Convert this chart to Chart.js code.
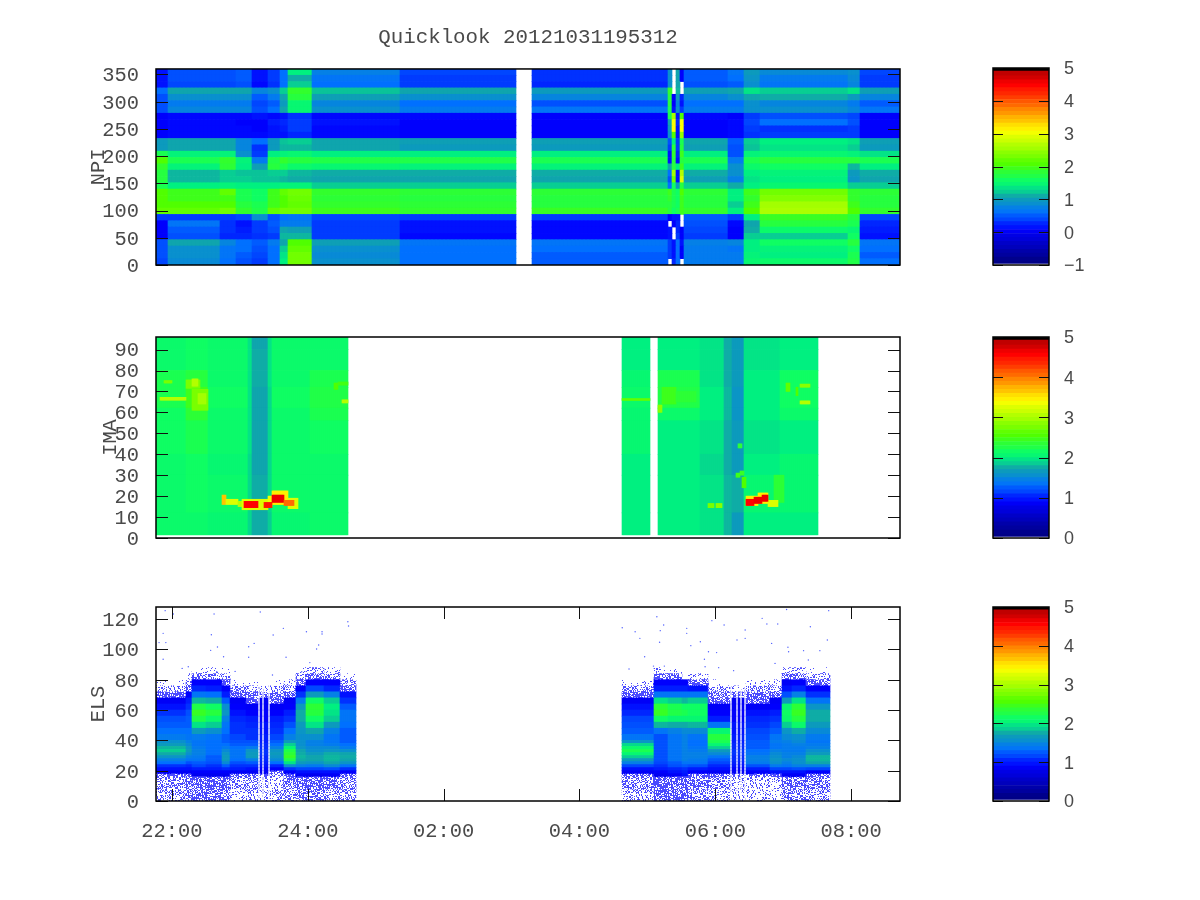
<!DOCTYPE html>
<html>
<head>
<meta charset="utf-8">
<title>Quicklook</title>
<script src="https://cdn.jsdelivr.net/npm/chart.js@4"></script>
<style>
body { margin: 0; background: #fff; }
canvas { position: absolute; left: 0; top: 0; }
</style>
</head>
<body>
<canvas id="npi" width="1200" height="900"></canvas>
<canvas id="ima" width="1200" height="900"></canvas>
<canvas id="els" width="1200" height="900"></canvas>
<canvas id="npiBar" width="1200" height="900"></canvas>
<canvas id="imaBar" width="1200" height="900"></canvas>
<canvas id="elsBar" width="1200" height="900"></canvas>
<script>
// textes et graduations
const titleText = 'Quicklook 20121031195312';
const npiTicks = [0, 50, 100, 150, 200, 250, 300, 350];
const imaTicks = [0, 10, 20, 30, 40, 50, 60, 70, 80, 90];
const elsTicks = [0, 20, 40, 60, 80, 100, 120];
const timeTicks = [22, 24, 26, 28, 30, 32];
const timeLabels = ['22:00', '24:00', '02:00', '04:00', '06:00', '08:00'];
const npiBarTicks = [-1, 0, 1, 2, 3, 4, 5];
const barTicks = [0, 1, 2, 3, 4, 5];
const rampLevels = [.008,.02,.04,.06,.08,.1,.12,.14,.16,.18,.2,.22,.24,.26,.28,.3,.32,.34,.36,.38,.4,.42,.44,.46,.48,.5,.52,.54,.56,.58,.6,.62,.64,.66,.68,.7,.72,.74,.76,.78,.8,.82,.84,.86,.88,.9,.92,.94,.96,.985];

// NPI : largeur des segments en colonnes, puis une ligne par canal (du haut vers le bas)
const _ = null;
const npiRuns = [3,13,4,4,4,3,2,6,22,29,4,34,1,1,1,1,11,4,4,22,3,10];
const npiEdges = [0,11.6,23.2,34.8,46.5,58.1,69.7,81.3,92.9,104.5,116.1,127.7,139.4,151,162.6,174.2,185.8,197.4,209,220.6,232.3,243.9,255.5,267.1,278.7,290.3,301.9,313.5,325.2,336.8,348.4,360];
const npiRows = [
  [.1,.4,.4,.45,.1,.3,.5,1.3,.65,.35,_,.25,.8,_,1,0,.45,.55,.9,.75,.8,.35],
  [.1,.4,.4,.45,.1,.3,.5,1.05,.55,.3,_,.25,.8,_,1,0,.45,.5,.85,.6,.75,.3],
  [.1,.35,.35,.4,.05,.25,.5,1.2,.5,.3,_,.2,.8,_,1,_,.4,.45,.8,.55,.7,.3],
  [.5,1,1,1,.7,.8,1.2,1.8,1.15,1,_,.9,1.8,_,1.1,_,.95,1,1.25,1.2,1.25,.95],
  [.4,.8,.8,.8,.45,.6,1,1.7,.95,.8,_,.7,1.7,0,.9,.2,.7,.8,1,1.05,.9,.7],
  [.4,.6,.6,.6,.35,.45,.9,1.4,.7,.5,_,.4,1.7,0,.7,.1,.5,.5,.8,.7,.6,.45],
  [.4,.7,.7,.7,.4,.5,1,1.4,.8,.6,_,.55,1.6,.1,.8,.3,.6,.6,.8,.8,.7,.55],
  [0,.05,.05,.05,.1,.05,.1,.25,.05,.05,_,0,1.6,2.5,.1,2,.05,0,.3,.4,.35,0],
  [0,.05,.05,0,0,.15,.2,.3,.1,0,_,0,1,3,.2,3,0,.05,.35,.5,.4,0],
  [0,.05,.05,.05,0,.1,.15,.3,.05,0,_,0,.9,3,.1,3,0,.05,.3,.25,.3,0],
  [0,.05,.05,.05,.05,.1,.1,.2,.05,0,_,0,.8,2,.1,2.4,0,.05,.25,.3,.3,0],
  [.9,1,1,.7,.5,.9,1.15,1.2,1,.95,_,.95,.4,1.3,.3,1.6,1,.45,1.2,1.3,1.25,.95],
  [.9,1,1,.7,.25,.9,1.1,1.1,1,.9,_,.9,.3,1.7,.3,1.7,.95,.4,1.15,1.25,1.2,.9],
  [1.6,1.35,1.35,.8,.3,1.3,1.35,1.4,1.3,1.3,_,1.3,.1,1.8,.2,1.9,1.3,.4,1.35,1.4,1.35,1.25],
  [2,1.6,1.8,1.35,.6,1.65,1.8,1.7,1.65,1.65,_,1.6,.1,1.7,.1,1.7,1.6,.6,1.6,1.7,1.7,1.6],
  [1.8,1.35,1.75,1.3,.95,1.7,1.6,1.45,1.4,1.35,_,1.35,1,1.7,1.3,1.9,1.35,.8,1.45,1.5,1.1,1.3],
  [1.7,1.1,1.2,1.15,1.15,1.2,1.2,1.1,1.05,1.05,_,1.05,.5,2.5,.1,2.6,1.05,.8,1.3,1.35,.9,1.05],
  [1.7,1.1,1.2,1.2,1.15,1.15,1.1,1.05,1,1,_,1,.4,2.2,.1,2.8,.95,.65,1.25,1.3,.85,1],
  [1.6,1.3,1.35,1.3,1.3,1.3,1.35,1.35,1.2,1.2,_,1.2,.5,1.5,.9,1.7,1.2,1.05,1.3,1.4,1.2,1.2],
  [2,1.9,2.1,1.6,1.5,1.9,2.1,2.2,1.8,1.75,_,1.75,1.9,1.6,1.5,2,1.75,1.3,1.9,2.2,1.8,1.75],
  [2,1.9,1.95,1.6,1.5,1.9,2,2.15,1.75,1.7,_,1.7,1.8,1.6,1.5,1.9,1.7,1.3,1.8,2.3,1.8,1.7],
  [2,2,2,1.7,1.6,1.9,2,2.1,1.8,1.75,_,1.7,1.7,1.6,1.5,1.9,1.7,1.2,1.9,2.5,1.9,1.7],
  [2.1,2.1,2.2,1.8,1.65,2.1,2.2,2.2,1.9,1.8,_,1.85,1.7,1.5,1.6,1.9,1.8,1.3,2,2.55,2,1.8],
  [.3,.3,.3,.35,.8,.4,.5,.55,.35,.3,_,.3,0,.1,.1,_,.45,.3,1.3,1.85,1.7,.35],
  [0,.55,.25,.1,.3,.45,.6,.6,.3,.1,_,.05,_,0,.2,_,.4,.05,1,1.7,1.6,.2],
  [0,.45,.25,.15,.3,.4,1,.95,.3,.1,_,.05,.1,_,.2,0,.35,0,1.05,1.45,1.4,.15],
  [0,.4,.2,.2,.25,.3,1.1,1.1,.3,.05,_,.05,.1,_,.3,0,.3,0,1.2,1.2,1.5,.1],
  [.4,1,.7,.5,.45,.6,1,2,.95,.55,_,.55,.3,.1,.5,.1,.65,.7,1.3,1.5,1.7,.55],
  [.4,.8,.55,.5,.4,.5,1.2,2.1,.8,.5,_,.5,.3,.1,.5,0,.6,.55,1.3,1.35,1.5,.5],
  [.4,.8,.55,.45,.35,.5,1.25,2.2,.75,.5,_,.45,.3,.1,.5,0,.6,.6,1.35,1.3,1.6,.45],
  [.35,.75,.5,.4,.3,.5,1.3,2.2,.8,.5,_,.45,_,.2,.5,_,.6,.6,1.4,1.45,1.65,.5]
];

// IMA : profils par segment de temps (du bas vers le haut)
const imaEdges = [1.5,12,30,40,56,62,72,80,90,96];
const imaRuns = [15,11,20,2,8,2,19,19,137,14,4,21,12,4,6,18,19,41];
const imaProfiles = [
  [2.05,2.05,2.05,2.1,2.1,2.15,2.15,2.05,2.05],
  [2.05,2.1,2.1,2.15,2.3,2.4,2.25,2.1,2.1],
  [2,2.05,2,2.05,2.05,2.1,2.05,2.05,2.05],
  [1.85,1.85,1.85,1.9,1.9,1.9,1.9,1.9,1.9],
  [1.7,1.7,1.65,1.65,1.65,1.65,1.7,1.7,1.65],
  [1.8,1.85,1.85,1.85,1.85,1.85,1.9,1.9,1.9],
  [2,2.05,2.05,2.05,2.05,2.1,2.05,2.05,2.05],
  [2.05,2.05,2.05,2.1,2.15,2.2,2.15,2.05,2.05],
  _,
  [1.95,1.95,1.95,2,2,2.05,2,1.95,1.95],
  _,
  [1.95,1.95,1.95,1.95,2.05,2.2,2.15,1.95,1.95],
  [1.9,1.9,1.85,1.9,1.95,1.95,1.9,1.9,1.9],
  [1.75,1.75,1.7,1.7,1.75,1.75,1.7,1.7,1.7],
  [1.6,1.7,1.6,1.6,1.55,1.55,1.6,1.6,1.6],
  [1.95,2,1.95,1.9,1.95,1.95,1.95,1.9,1.9],
  [1.95,2,2,1.95,2.05,2.1,2.1,1.95,1.95],
  _
];
// IMA : taches chaudes (colonne, nb de colonnes, bas, haut, valeur)
const imaHotCol = [18,21,2,4,15,18,89,93,91,233,251,253,260,315,322,320,322,309,293,290,292,291,276,280,33,35,41,43,56,58,66,44,54,58,64,295,301,306,295,299,303];
const imaHotSpan = [8,4,13,4,7,3,2,3,5,14,2,7,10,2,5,1,5,5,2,2,2,2,3,3,2,6,2,13,2,8,5,7,4,6,5,6,5,5,4,4,3];
const imaHotLo = [61,64,65.8,74,71.5,72.5,71,64.5,73,65.7,60,64,65,70,72,68,64,17,24,29,30,43,14.5,14.5,16,16,15,13.5,15,16,14,14.5,14.5,17,15.5,15.5,16.5,15,15.5,16.5,17.5];
const imaHotHi = [71,69,67.2,75.2,75.5,76,74,66,74.5,66.6,63.5,72,70,74,73.5,72,65.5,30,29,31,32,45,16.5,16.5,20.5,18.5,17.5,18.5,20,22.5,19,17.5,17,20.5,18,20,21.5,18,18.5,19.5,20.5];
const imaHotVal = [2.7,2.9,3,2.7,2.7,3,2.5,3,2.45,2.6,2.8,2.4,2.3,2.6,2.8,2.5,3,2.3,2.5,2.4,2.35,2.3,2.7,2.8,3.6,3.2,3,3.2,3.3,3.4,3.2,4.5,4.4,4.6,4,3.4,3.4,3.2,4.5,4.6,4.6];

// ELS : profils par segment (du bas vers le haut), negatif = points epars, 0 = vide
const elsEdges = [0,8,16,18,20,22,24,26,28,30,32,34,36,38,40,44,48,52,56,60,64,68,72,76,80,84,88];
const L1 = [-.4,-.5,-.8,.8,.9,1.05,1.25,1.4,1.55,1.7,1.8,1.75,1.6,1.5,1.35,1.25,1.2,1.15,1.05,.9,.8,-.85,-.35,-.05,0,0];
const L2 = [-.6,-.7,-.9,.8,.9,1,1.15,1.3,1.4,1.5,1.6,1.55,1.45,1.4,1.3,1.25,1.2,1.2,1.15,1.05,.95,.85,-.8,-.45,-.1,0];
const L3 = [-.75,-.85,.75,.85,.95,1.1,1.2,1.3,1.35,1.4,1.4,1.35,1.3,1.3,1.35,1.6,1.9,2.2,2.35,2.2,1.75,1.3,1,.85,-.6,-.15];
const L4 = [-.7,-.85,.75,.85,.95,1.05,1.15,1.2,1.2,1.25,1.25,1.25,1.25,1.25,1.3,1.5,1.8,2.05,2.25,2.1,1.7,1.25,.95,.85,-.55,-.1];
const L5 = [-.6,-.8,.75,.85,1,1.2,1.45,1.6,1.6,1.55,1.45,1.35,1.25,1.2,1.2,1.25,1.3,1.4,1.55,1.5,1.2,.95,.85,-.85,-.4,-.05];
const L6 = [-.2,-.4,-.85,.8,.95,1.05,1.15,1.25,1.3,1.3,1.3,1.25,1.2,1.15,1.1,1.05,1.05,1,.9,.85,.8,-.9,-.5,-.1,0,0];
const L7 = [-.35,-.55,-.85,.8,.9,1.05,1.2,1.4,1.6,1.6,1.55,1.35,1.2,1.15,1.05,1.05,1,.95,.85,.8,-.9,-.7,-.35,-.05,0,0];
const SB = [-.3,-.4,-.7,.8,.85,.9,.95,1,1,1.05,1.05,1,1,.95,.95,.9,.9,.85,.85,.8,.8,-.7,-.2,0,0,0];
const L8 = [-.4,-.25,-.3,-.85,.85,1,1.25,1.45,1.55,1.6,1.55,1.4,1.25,1.2,1.1,1.05,1,.95,.85,.8,-.9,-.7,-.35,-.05,0,0];
const L9 = [-.5,-.7,-.85,.85,1.05,1.5,1.9,2.2,2.35,2.3,2.2,2,1.8,1.6,1.4,1.25,1.15,1.05,.95,.85,.8,-.85,-.5,-.15,0,0];
const L10 = [-.6,-.75,.8,.9,1.1,1.4,1.6,1.7,1.75,1.7,1.65,1.55,1.5,1.5,1.5,1.55,1.6,1.7,1.7,1.6,1.35,1.05,.85,-.85,-.5,-.1];
const L11 = [-.6,-.8,.75,.9,1.1,1.35,1.55,1.65,1.65,1.6,1.5,1.45,1.4,1.4,1.5,1.65,1.9,2.1,2.25,2.3,2.1,1.6,1.1,.85,-.8,-.35];
const L12 = [-.5,-.7,.8,.9,1.15,1.45,1.65,1.75,1.75,1.7,1.55,1.45,1.35,1.3,1.3,1.4,1.6,1.8,1.9,1.95,1.8,1.4,1,.85,-.6,-.15];
const L13 = [-.45,-.6,-.85,.85,1.05,1.3,1.55,1.65,1.7,1.65,1.5,1.35,1.25,1.2,1.2,1.2,1.25,1.3,1.3,1.2,1.05,.9,-.85,-.5,-.1,0];
const R1 = [-.35,-.55,-.85,.8,.9,1.1,1.4,1.6,1.8,2,2.15,2.05,1.85,1.55,1.3,1.2,1.15,1.1,1,.9,.8,-.9,-.5,-.1,0,0];
const R2 = [-.85,-.9,.75,.85,.95,1.05,1.1,1.15,1.15,1.15,1.15,1.15,1.15,1.15,1.15,1.3,1.75,2.1,2.35,2.3,1.9,1.3,.95,.85,-.75,-.2];
const R3 = [-.8,-.85,.8,.9,1,1.15,1.2,1.3,1.3,1.3,1.3,1.3,1.3,1.3,1.3,1.4,1.7,2,2.2,2.15,1.8,1.3,.95,.85,-.6,-.1];
const R3b = [-.9,-.85,.9,.95,1.05,1.2,1.3,1.4,1.4,1.4,1.4,1.4,1.4,1.4,1.4,1.45,1.7,2,2.15,2.1,1.75,1.3,.95,.85,0,0];
const R4 = [-.5,-.7,-.85,.85,.95,1.15,1.3,1.35,1.4,1.4,1.35,1.3,1.25,1.25,1.3,1.45,1.75,2,2.1,2.1,1.8,1.3,.9,-.85,-.3,0];
const R5 = [-.35,-.5,-.85,.8,.9,1,1.1,1.2,1.3,1.45,1.6,1.8,2,2.15,2.25,2,1.3,.95,.85,.8,-.9,-.7,-.3,-.05,0,0];
const R6 = [-.2,-.3,-.6,.85,.95,1.15,1.35,1.4,1.4,1.3,1.25,1.2,1.2,1.2,1.15,1.1,1.05,1,.9,.8,-.9,-.75,-.45,-.1,0,0];
const R7 = [-.15,-.25,-.85,.9,1.1,1.35,1.5,1.55,1.5,1.45,1.4,1.3,1.3,1.35,1.3,1.2,1.1,1.05,.95,.85,.8,-.85,-.45,-.1,0,0];
const R8 = [-.55,-.7,.8,.9,1.1,1.3,1.4,1.45,1.4,1.4,1.35,1.35,1.35,1.4,1.45,1.55,1.8,2.05,2.1,2,1.6,1.15,.9,.8,-.8,-.3];
const R9 = [-.5,-.65,.8,.9,1.15,1.4,1.5,1.5,1.45,1.4,1.35,1.35,1.4,1.45,1.5,1.7,2.05,2.25,2.35,2.3,1.9,1.4,1,.85,-.7,-.25];
const R10 = [-.45,-.6,-.85,.85,1.1,1.4,1.65,1.75,1.75,1.6,1.5,1.4,1.35,1.3,1.35,1.45,1.6,1.7,1.7,1.55,1.3,1.05,.85,-.85,-.35,-.05];
const elsRuns = [15,3,7,8,4,8,6,1,1,1,2,1,7,6,5,9,8,8,133,16,7,7,3,10,11,1,2,1,1,1,1,1,12,6,5,7,12,35];
const elsOrder = [L1,L2,L3,L4,L5,L6,L7,_,SB,_,SB,_,L8,L9,L10,L11,L12,L13,_,R1,R2,R3,R3b,R4,R5,_,SB,_,SB,_,SB,_,R6,R7,R8,R9,R10,_];
// ELS : points isoles au-dessus du spectre (heure, canal)
const elsDotHour = [21.9,22.02,22.62,23.3,24.59,24.6,23.64,23.98,24.21,24.21,21.87,22.58,23.49,23.21,23.13,24.16,24.13,21.81,21.91,22.67,22.57,22.76,23.13,23.68,24.03,21.87,22.15,22.24,22.66,22.93,23.48,23.91,31.05,31.67,29.14,29.95,30.69,29.24,28.63,28.82,29.19,29.58,30.13,30.44,30.76,30.92,31.4,28.89,29.18,29.58,29.78,30.32,30.44,31.65,29.64,30.83,31.07,31.3,31.54,29.9,30.02,28.96,29.84,31.08,31.37,29.09,29.25,28.73,29.85,30.05,30.88,30.27];
const elsDotY = [125.6,123.4,123.4,124.7,118.3,115.5,113.9,111.7,111.7,110.2,110.6,109.7,109.5,104,101.8,102.9,100.3,104.5,104.5,101.6,99.4,95.2,94.8,94.8,91.3,93.5,87.5,88.6,85.3,85.5,83.1,85.3,126.4,125.6,121.6,119,120.5,116.1,114.3,111.7,112.4,113.9,116.1,112.8,116.8,116.8,115,107.3,104.7,110.6,105.1,106.2,107.3,106.2,102.5,104,101.4,99.2,99.2,98.5,97.9,95.2,93.5,98.5,93,89,89,87.1,88.6,88,90.8,86];

// palette
const stopPos = [0,.083,.167,.25,.333,.383,.417,.5,.583,.667,.75,.833,.9,.98];
const stopRgb = [[0,0,128],[0,0,192],[0,0,255],[0,112,255],[16,168,168],[0,240,128],[16,255,96],[80,255,0],[168,255,0],[255,255,0],[255,160,0],[255,64,0],[255,0,0],[160,0,0]];

function colorAt(f) {
    if (f >= .985) return '#000';
    f = Math.max(0, Math.floor(f * 128) / 128);
    let i = 0;
    while (i < stopPos.length - 2 && f > stopPos[i + 1]) i++;
    const t = Math.min(1, (f - stopPos[i]) / (stopPos[i + 1] - stopPos[i]));
    const c = stopRgb[i].map((a, k) => Math.round(a + (stopRgb[i + 1][k] - a) * t));
    return 'rgb(' + c.join(',') + ')';
}

// motif de points pour le bruit du canal ELS
const speckles = {};
function speckle(density) {
    const key = density.toFixed(2);
    if (speckles[key]) return speckles[key];
    const tile = document.createElement('canvas');
    tile.width = tile.height = 97;
    const t = tile.getContext('2d');
    t.fillStyle = '#4a4aff';
    for (let x = 0; x < 97; x++) {
        for (let y = 0; y < 97; y++) {
            const h = (x * x * 31 + y * y * 17 + x * y * 7 + x * 13 + y * 29) % 97;
            if (h / 97 < density * .8) t.fillRect(x, y, 1, 1);
        }
    }
    speckles[key] = t.createPattern(tile, 'repeat');
    return speckles[key];
}

function stretch(runs, values) {
    const out = [];
    runs.forEach((n, i) => {
        for (let k = 0; k < n; k++) out.push(values[i]);
    });
    return out;
}

function gridDatasets(edges, rows, colorOf) {
    return rows.map((row, r) => ({
        data: row.map(v => v === null ? null : [edges[r], edges[r + 1]]),
        backgroundColor: row.map(v => v === null ? 'transparent' : colorOf(v)),
        grouped: false, barPercentage: 1, categoryPercentage: 1, borderWidth: 0, order: 10, xAxisID: 'x'
    }));
}

const monoFont = { family: '"Liberation Mono", monospace', size: 20.4, weight: 'normal' };
const titleFont = { family: '"Liberation Mono", monospace', size: 20.8, weight: 'normal' };
const sansFont = { family: '"Liberation Sans", sans-serif', size: 18 };
const textColor = '#4a4a4a';

const framePlugin = {
    id: 'frame',
    afterDraw(chart, args, opts) {
        const a = chart.chartArea, ctx = chart.ctx;
        ctx.save();
        ctx.strokeStyle = '#111';
        ctx.lineWidth = 1;
        ctx.beginPath();
        chart.scales.y.ticks.forEach(t => {
            const p = Math.round(chart.scales.y.getPixelForValue(t.value)) + .5;
            ctx.moveTo(a.left, p); ctx.lineTo(a.left + opts.tick, p);
            ctx.moveTo(a.right, p); ctx.lineTo(a.right - opts.tick, p);
        });
        if (chart.scales.t) {
            chart.scales.t.ticks.forEach(t => {
                const p = Math.round(chart.scales.t.getPixelForValue(t.value)) + .5;
                ctx.moveTo(p, a.top); ctx.lineTo(p, a.top + opts.tick);
                ctx.moveTo(p, a.bottom); ctx.lineTo(p, a.bottom - opts.tick);
            });
        }
        ctx.stroke();
        ctx.lineWidth = 1.5;
        ctx.strokeStyle = '#000';
        ctx.strokeRect(a.left, a.top, a.right - a.left, a.bottom - a.top);
        ctx.restore();
    }
};

function baseOptions(padding, tick) {
    return {
        responsive: false, animation: false, devicePixelRatio: 1, events: [],
        layout: { padding: padding },
        plugins: { legend: { display: false }, tooltip: { enabled: false }, frame: { tick: tick } },
        scales: {}
    };
}

function yAxis(min, max, ticks, label, titlePad) {
    return {
        type: 'linear', min: min, max: max, position: 'left',
        afterBuildTicks: s => { s.ticks = ticks.map(v => ({ value: v })); },
        afterFit: s => { s.width = 156; },
        grid: { display: false, drawTicks: false }, border: { display: false },
        ticks: { font: monoFont, color: textColor, padding: 17, autoSkip: false, labelOffset: 1.5 },
        title: { display: true, text: label, font: monoFont, color: textColor, padding: { top: titlePad, bottom: 0 } }
    };
}

const hiddenX = { type: 'category', display: false, offset: true };

function panel(id, columns, datasets, y, padding) {
    const options = baseOptions(padding, 12);
    options.scales = { x: hiddenX, y: y };
    return new Chart(document.getElementById(id), {
        type: 'bar',
        data: { labels: Array.from({ length: columns }, (v, i) => String(i)), datasets: datasets },
        options: options,
        plugins: [framePlugin]
    });
}

function colorbar(id, min, max, ticks, labels, top, bottom) {
    const datasets = rampLevels.map((f, i) => ({
        data: [[min + f * (max - min), min + (i + 1 < rampLevels.length ? rampLevels[i + 1] : 1) * (max - min)]],
        backgroundColor: colorAt(f),
        grouped: false, barPercentage: 1, categoryPercentage: 1, borderWidth: 0
    }));
    const options = baseOptions({ left: 993, top: top, bottom: 900 - bottom, right: 0 }, 10);
    options.scales = {
        x: hiddenX,
        y: {
            type: 'linear', min: min, max: max, position: 'right',
            afterBuildTicks: s => { s.ticks = ticks.map(v => ({ value: v })); },
            afterFit: s => { s.width = 151; },
            grid: { display: false, drawTicks: false }, border: { display: false },
            ticks: { font: sansFont, color: textColor, padding: 15, autoSkip: false, labelOffset: 1.5,
                     callback: (v, i) => labels[i] }
        }
    };
    return new Chart(document.getElementById(id), {
        type: 'bar', data: { labels: [''], datasets: datasets }, options: options, plugins: [framePlugin]
    });
}

// panneau NPI
const npiBottomUp = npiRows.slice().reverse().map(row => stretch(npiRuns, row));
const npiChart = panel('npi', 186, gridDatasets(npiEdges, npiBottomUp, v => colorAt((v + 1) / 6)),
    yAxis(0, 360, npiTicks, 'NPI', 86), { left: 0, top: 0, right: 300, bottom: 635 });
npiChart.options.plugins.title = {
    display: true, text: titleText, font: titleFont, color: textColor, fullSize: false,
    padding: { top: 25, bottom: 19 }
};
npiChart.update();

// panneau IMA
const imaRows = imaEdges.slice(1).map((e, r) => stretch(imaRuns, imaProfiles.map(p => p ? p[r] : null)));
const imaSets = gridDatasets(imaEdges, imaRows, v => colorAt(v / 5));
imaHotCol.forEach((col, i) => {
    const data = [];
    for (let k = 0; k < imaHotSpan[i]; k++) data.push({ x: String(col + k), y: [imaHotLo[i], imaHotHi[i]] });
    imaSets.push({ data: data, backgroundColor: colorAt(imaHotVal[i] / 5), grouped: false,
        barPercentage: 1, categoryPercentage: 1, borderWidth: 0, order: 5 - i * .01, xAxisID: 'x' });
});
panel('ima', 372, imaSets, yAxis(0, 96, imaTicks, 'IMA', 98), { left: 0, top: 337, right: 300, bottom: 362 });

// panneau ELS (0 = pas de signal)
const elsRows = elsEdges.slice(1).map((e, r) => stretch(elsRuns, elsOrder.map(p => (p && p[r] !== 0) ? p[r] : null)));
const elsSets = gridDatasets(elsEdges, elsRows, v => v < 0 ? speckle(-v) : colorAt(v / 5));
elsSets.push({
    type: 'scatter', xAxisID: 't', order: 1, pointRadius: .7, borderWidth: 0, backgroundColor: '#5060ff',
    data: elsDotHour.map((h, i) => ({ x: h, y: elsDotY[i] }))
});
const elsChart = panel('els', 372, elsSets, yAxis(0, 128, elsTicks, 'ELS', 86), { left: 0, top: 607, right: 300, bottom: 59 });
elsChart.options.scales.t = {
    type: 'linear', position: 'bottom', min: 21.765, max: 32.72, offset: false,
    afterBuildTicks: s => { s.ticks = timeTicks.map(v => ({ value: v })); },
    afterFit: s => { s.height = 40; },
    grid: { display: false, drawTicks: false }, border: { display: false },
    ticks: { font: monoFont, color: textColor, padding: 18, autoSkip: false, maxRotation: 0,
             callback: (v, i) => timeLabels[i] }
};
elsChart.update();

// barres de couleur
colorbar('npiBar', -1, 5, npiBarTicks, ['\u22121', '0', '1', '2', '3', '4', '5'], 68, 265);
colorbar('imaBar', 0, 5, barTicks, ['0', '1', '2', '3', '4', '5'], 337, 538);
colorbar('elsBar', 0, 5, barTicks, ['0', '1', '2', '3', '4', '5'], 607, 801);
</script>
</body>
</html>
